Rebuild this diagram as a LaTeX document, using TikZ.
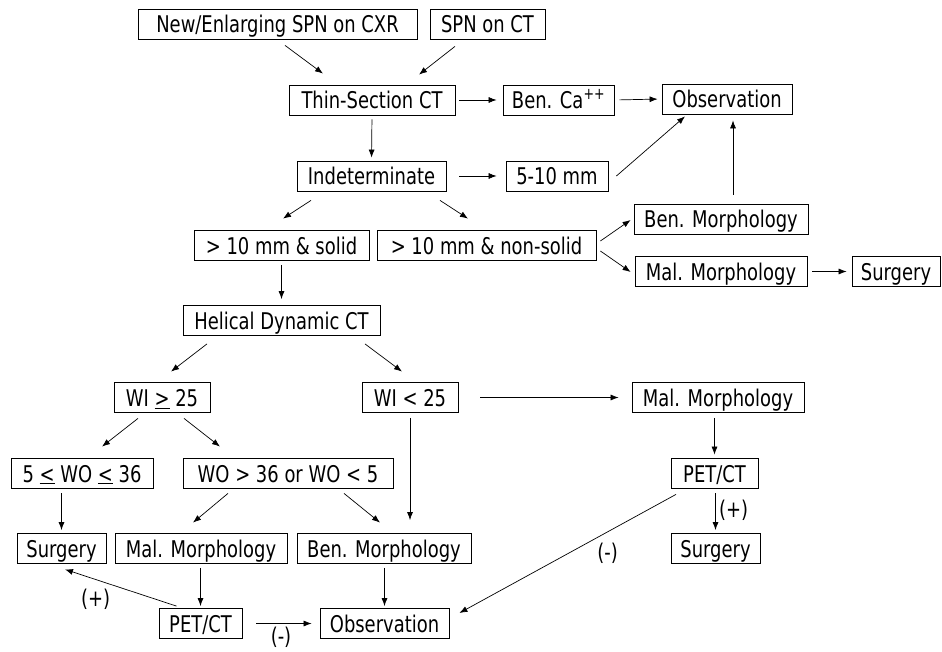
\documentclass[tikz,border=0pt]{standalone}
\usepackage{fontspec}
\setmainfont{DejaVu Sans}[FakeStretch=0.78]
\usetikzlibrary{arrows.meta,calc}
\tikzset{
  box/.style={draw, line width=0.8pt, inner xsep=2pt, inner ysep=2pt,
    text height=22pt, text depth=4pt, font=\fontsize{23}{26}\selectfont},
  arr/.style={-{Latex[length=8pt,width=6pt]}, line width=0.7pt},
  lbl/.style={font=\fontsize{23}{26}\selectfont}
}
\begin{document}
\begin{tikzpicture}[x=1pt, y=-1pt]
        \useasboundingbox (0,0) rectangle (942,652);
        \node[box, minimum width=279] (new) at (277.5,24) {New/Enlarging SPN on CXR};
        \node[box, minimum width=115] (spn) at (487.5,24) {SPN on CT};
        \node[box, minimum width=166] (thin) at (372,100) {Thin-Section CT};
        \node[box, minimum width=111] (benca) at (558.5,100) {Ben. Ca\textsuperscript{++}};
        \node[box, minimum width=130] (obsa) at (727,99) {Observation};
        \node[box, minimum width=149] (indet) at (371.5,176) {Indeterminate};
        \node[box, minimum width=102] (mm) at (557,176) {5-10 mm};
        \node[box, minimum width=175] (solid) at (281.5,245.5) {> 10 mm \& solid};
        \node[box, minimum width=219] (nonsolid) at (486.5,245.5) {> 10 mm \& non-solid};
        \node[box, minimum width=174] (benma) at (721,219) {Ben. Morphology};
        \node[box, minimum width=172] (malma) at (721,271.5) {Mal. Morphology};
        \node[box, minimum width=88] (surga) at (896,271.5) {Surgery};
        \node[box, minimum width=197] (helical) at (281.5,320.5) {Helical Dynamic CT};
        \node[box, minimum width=96] (wige) at (162,397.5) {WI \underline{>} 25};
        \node[box, minimum width=96] (wilt) at (410,397.5) {WI < 25};
        \node[box, minimum width=172] (malmb) at (718,397.5) {Mal. Morphology};
        \node[box, minimum width=142] (woin) at (82,473) {5 \underline{<} WO \underline{<} 36};
        \node[box, minimum width=210] (woout) at (288,473) {WO > 36 or WO < 5};
        \node[box, minimum width=87] (peta) at (714.5,473) {PET/CT};
        \node[box, minimum width=89] (surgb) at (61.5,548.5) {Surgery};
        \node[box, minimum width=172] (malmc) at (201,548.5) {Mal. Morphology};
        \node[box, minimum width=174] (benmc) at (384,548.5) {Ben. Morphology};
        \node[box, minimum width=89] (surgc) at (715.5,548.5) {Surgery};
        \node[box, minimum width=83] (petb) at (200.5,623.5) {PET/CT};
        \node[box, minimum width=129] (obsb) at (384.5,623.5) {Observation};
        \draw[arr] ($(new.south)+(7.5,6)$) -- ($(thin.north)+(-49,-11)$);
        \draw[arr] ($(spn.south)+(-32.5,7)$) -- ($(thin.north)+(47,-10)$);
        \draw[arr, shorten <=4pt, shorten >=6pt] (thin.east) -- (benca.west);
        \draw[arr, shorten <=5pt, shorten >=4pt] (benca.east) -- (obsa.west);
        \draw[arr, shorten <=4pt, shorten >=3pt] (thin.south) -- (indet.north);
        \draw[arr, shorten <=13pt, shorten >=9pt] (indet.east) -- (mm.west);
        \draw[arr] ($(mm.east)+(8,0)$) -- ($(obsa.south)+(-42,2)$);
        \draw[arr] ($(benma.north)+(12,-9)$) -- ($(obsa.south)+(6,6)$);
        \draw[arr] ($(indet.south)+(-60.5,9)$) -- ($(solid.north)+(1.5,-11.5)$);
        \draw[arr] ($(indet.south)+(68.5,9)$) -- ($(nonsolid.north)+(-18.5,-11.5)$);
        \draw[arr] ($(nonsolid.east)+(4,-4.5)$) -- ($(benma.west)+(-3,1)$);
        \draw[arr] ($(nonsolid.east)+(4,5.5)$) -- ($(malma.west)+(-4,0.5)$);
        \draw[arr, shorten <=5pt, shorten >=5pt] (malma.east) -- (surga.west);
        \draw[arr, shorten <=4pt, shorten >=6pt] (solid.south) -- (helical.north);
        \draw[arr] ($(helical.south)+(-74.5,8)$) -- ($(wige.north)+(9,-10.5)$);
        \draw[arr] ($(helical.south)+(83.5,8)$) -- ($(wilt.north)+(-8,-10.5)$);
        \draw[arr, shorten <=22pt, shorten >=13pt] (wilt.east) -- (malmb.west);
        \draw[arr, shorten <=5pt, shorten >=13pt] (wilt.south) -- ($(benmc.north)+(26,0)$);
        \draw[arr, shorten <=5pt, shorten >=3pt] (malmb.south -| peta.north) -- (peta.north);
        \draw[arr] ($(wige.south)+(-24,5.5)$) -- ($(woin.north)+(20,-11)$);
        \draw[arr] ($(wige.south)+(22,5.5)$) -- ($(woout.north)+(-68,-11)$);
        \draw[arr, shorten <=5pt, shorten >=3pt] (woin.south -| surgb.north) -- (surgb.north);
        \draw[arr] ($(woout.south)+(-60,5)$) -- ($(malmc.north)+(-8,-10.5)$);
        \draw[arr] ($(woout.south)+(56,5)$) -- ($(benmc.north)+(-4,-10.5)$);
        \draw[arr, shorten <=5pt, shorten >=3pt] (peta.south -| surgc.north) -- (surgc.north)
            node[lbl, midway, right] {(+)};
        \draw[arr] ($(peta.south)+(-38.5,6)$) -- ($(obsb.east)+(10,-10.5)$)
            node[lbl, pos=0.38, below right] {(-)};
        \draw[arr, shorten <=4pt, shorten >=2pt] (malmc.south -| petb.north) -- (petb.north);
        \draw[arr, shorten <=4pt, shorten >=2pt] (benmc.south -| obsb.north) -- (obsb.north);
        \draw[arr] ($(petb.north)+(-24,-2)$) -- ($(surgb.south)+(3.5,5.5)$)
            node[lbl, midway, below left, xshift=-7pt, yshift=2pt] {(+)};
        \draw[arr, shorten <=14pt, shorten >=8pt] (petb.east) -- (obsb.west)
            node[lbl, midway, below] {(-)};
\end{tikzpicture}
\end{document}
